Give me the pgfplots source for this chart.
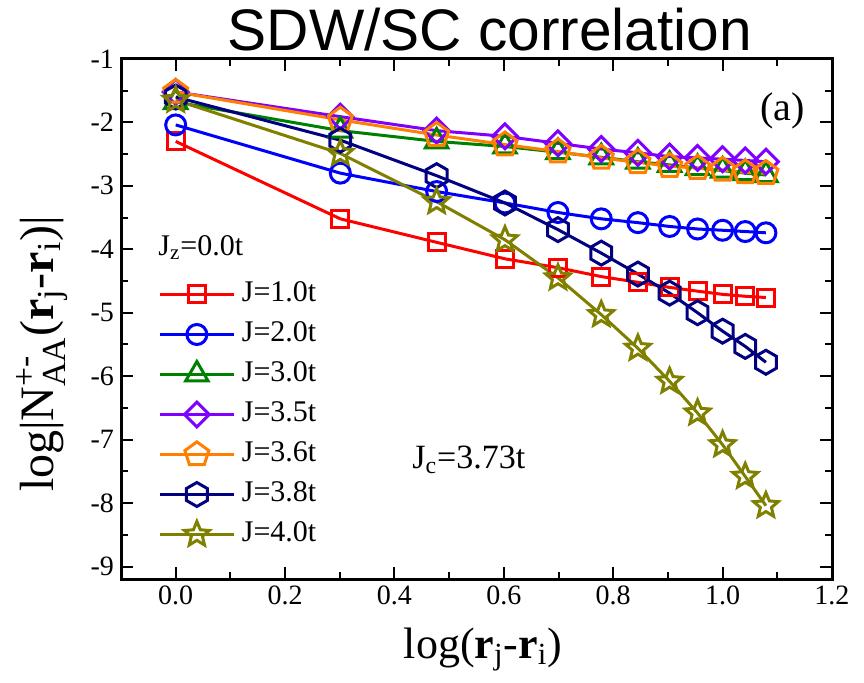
\documentclass[border=0pt]{standalone}
\usepackage{fontspec}
\setmainfont{Liberation Serif}
\newfontfamily\titlefont{Liberation Sans}
\usepackage{amsmath}
\usepackage{pgfplots}
\pgfplotsset{compat=1.18}
\usetikzlibrary{plotmarks}
\definecolor{cred}{RGB}{255,0,0}
\definecolor{cblue}{RGB}{0,0,255}
\definecolor{cgreen}{RGB}{0,128,0}
\definecolor{cpurple}{RGB}{128,0,255}
\definecolor{corange}{RGB}{255,128,0}
\definecolor{cnavy}{RGB}{0,0,128}
\definecolor{colive}{RGB}{128,128,0}
\pgfdeclareplotmark{hexagon}{%
  \pgfpathmoveto{\pgfqpointpolar{90}{\pgfplotmarksize}}%
  \pgfpathlineto{\pgfqpointpolar{150}{\pgfplotmarksize}}%
  \pgfpathlineto{\pgfqpointpolar{210}{\pgfplotmarksize}}%
  \pgfpathlineto{\pgfqpointpolar{270}{\pgfplotmarksize}}%
  \pgfpathlineto{\pgfqpointpolar{330}{\pgfplotmarksize}}%
  \pgfpathlineto{\pgfqpointpolar{30}{\pgfplotmarksize}}%
  \pgfpathclose\pgfusepathqstroke}
\pgfdeclareplotmark{ostar}{%
  \pgfpathmoveto{\pgfqpointpolar{90}{\pgfplotmarksize}}%
  \pgfpathlineto{\pgfqpointpolar{126}{0.45\pgfplotmarksize}}%
  \pgfpathlineto{\pgfqpointpolar{162}{\pgfplotmarksize}}%
  \pgfpathlineto{\pgfqpointpolar{198}{0.45\pgfplotmarksize}}%
  \pgfpathlineto{\pgfqpointpolar{234}{\pgfplotmarksize}}%
  \pgfpathlineto{\pgfqpointpolar{270}{0.45\pgfplotmarksize}}%
  \pgfpathlineto{\pgfqpointpolar{306}{\pgfplotmarksize}}%
  \pgfpathlineto{\pgfqpointpolar{342}{0.45\pgfplotmarksize}}%
  \pgfpathlineto{\pgfqpointpolar{18}{\pgfplotmarksize}}%
  \pgfpathlineto{\pgfqpointpolar{54}{0.45\pgfplotmarksize}}%
  \pgfpathclose\pgfusepathqstroke}
\begin{document}
\begin{tikzpicture}
\useasboundingbox (0,0) rectangle (432pt,341pt);
\begin{axis}[
  at={(60.5pt,51.35pt)}, anchor=south west,
  scale only axis, width=355.5pt, height=260.2pt,
  xmin=-0.1, xmax=1.2, ymin=-9.2, ymax=-1,
  xtick={0,0.2,0.4,0.6,0.8,1.0,1.2}, minor x tick num=1,
  xticklabels={0.0,0.2,0.4,0.6,0.8,1.0,1.2},
  ytick={-9,-8,-7,-6,-5,-4,-3,-2,-1}, minor y tick num=1,
  yticklabels={-9,-8,-7,-6,-5,-4,-3,-2,-1},
  xtick pos=both, ytick pos=both, ticklabel pos=left,
  tick align=inside,
  major tick length=6pt, minor tick length=3.5pt,
  every tick/.style={black, line width=1pt},
  axis line style={line width=1.5pt},
  xticklabel style={font=\rmfamily\fontsize{14}{16}\selectfont},
  yticklabel style={font=\rmfamily\fontsize{14}{16}\selectfont},
  every axis plot/.append style={line width=1.5pt},
  legend style={draw=none, fill=none, at={(rel axis cs:0.052,0.5865)}, anchor=north west, inner sep=0pt,
    font=\fontsize{15}{18}\selectfont,
    nodes={inner sep=3.25pt, text height=10.5pt, text depth=3pt}},
  legend cell align=left,
  legend image code/.code={\draw[mark repeat=2,mark phase=2,#1] plot coordinates {(0pt,0pt) (18.5pt,0pt) (37pt,0pt)};},
]
\addplot[cred, mark=square, mark size=4.25pt] coordinates {
(0,-2.30) (0.30103,-3.52) (0.47712,-3.89) (0.60206,-4.15) (0.69897,-4.29) (0.77815,-4.43)
(0.84510,-4.52) (0.90309,-4.60) (0.95424,-4.66) (1.0,-4.71) (1.04139,-4.74) (1.07918,-4.76)};
\addlegendentry{J=1.0t}
\addplot[cblue, mark=o, mark size=5pt] coordinates {
(0,-2.04) (0.30103,-2.80) (0.47712,-3.09) (0.60206,-3.27) (0.69897,-3.42) (0.77815,-3.52)
(0.84510,-3.58) (0.90309,-3.64) (0.95424,-3.68) (1.0,-3.70) (1.04139,-3.72) (1.07918,-3.74)};
\addlegendentry{J=2.0t}
\addplot[cgreen, mark=triangle, mark size=6.5pt] coordinates {
(0,-1.68) (0.30103,-2.13) (0.47712,-2.30) (0.60206,-2.38) (0.69897,-2.47) (0.77815,-2.55)
(0.84510,-2.62) (0.90309,-2.67) (0.95424,-2.72) (1.0,-2.76) (1.04139,-2.80) (1.07918,-2.83)};
\addlegendentry{J=3.0t}
\addplot[cpurple, mark=square, mark size=4.4pt, mark options={rotate=45}] coordinates {
(0,-1.52) (0.30103,-1.91) (0.47712,-2.13) (0.60206,-2.22) (0.69897,-2.33) (0.77815,-2.42)
(0.84510,-2.48) (0.90309,-2.54) (0.95424,-2.56) (1.0,-2.58) (1.04139,-2.60) (1.07918,-2.62)};
\addlegendentry{J=3.5t}
\addplot[corange, mark=pentagon, mark size=6.3pt] coordinates {
(0,-1.52) (0.30103,-1.96) (0.47712,-2.20) (0.60206,-2.35) (0.69897,-2.46) (0.77815,-2.56)
(0.84510,-2.63) (0.90309,-2.69) (0.95424,-2.72) (1.0,-2.75) (1.04139,-2.79) (1.07918,-2.80)};
\addlegendentry{J=3.6t}
\addplot[cnavy, mark=hexagon, mark size=6pt] coordinates {
(0,-1.60) (0.30103,-2.28) (0.47712,-2.84) (0.60206,-3.27) (0.69897,-3.69) (0.77815,-4.06)
(0.84510,-4.39) (0.90309,-4.69) (0.95424,-5.00) (1.0,-5.29) (1.04139,-5.53) (1.07918,-5.78)};
\addlegendentry{J=3.8t}
\addplot[colive, mark=ostar, mark size=6.5pt] coordinates {
(0,-1.65) (0.30103,-2.49) (0.47712,-3.25) (0.60206,-3.85) (0.69897,-4.45) (0.77815,-5.03)
(0.84510,-5.56) (0.90309,-6.08) (0.95424,-6.58) (1.0,-7.08) (1.04139,-7.58) (1.07918,-8.04)};
\addlegendentry{J=4.0t}
\end{axis}
\node[anchor=base, font=\titlefont\fontsize{29.3}{32}\selectfont, inner sep=0pt] at (245pt,316pt) {SDW/SC correlation};
\node[anchor=base west, font=\fontsize{15}{18}\selectfont, inner sep=0pt] at (79pt,213.5pt) {J$_{\text{z}}$=0.0t};
\node[anchor=base west, font=\fontsize{17}{20}\selectfont, inner sep=0pt] at (206pt,107pt) {J$_{\text{c}}$=3.73t};
\node[anchor=base west, font=\fontsize{20}{24}\selectfont, inner sep=0pt] at (380pt,280.5pt) {(a)};
\node[rotate=90, font=\fontsize{24}{28}\selectfont, inner sep=0pt] at (21pt,164pt) {log|N$^{\text{+-}}_{\text{AA}}$(\textbf{r}$_{\text{j}}$-\textbf{r}$_{\text{i}}$)|};
\node[anchor=base, font=\fontsize{22}{26}\selectfont, inner sep=0pt] at (241.5pt,12pt) {log(\textbf{r}$_{\text{j}}$-\textbf{r}$_{\text{i}}$)};
\end{tikzpicture}
\end{document}
